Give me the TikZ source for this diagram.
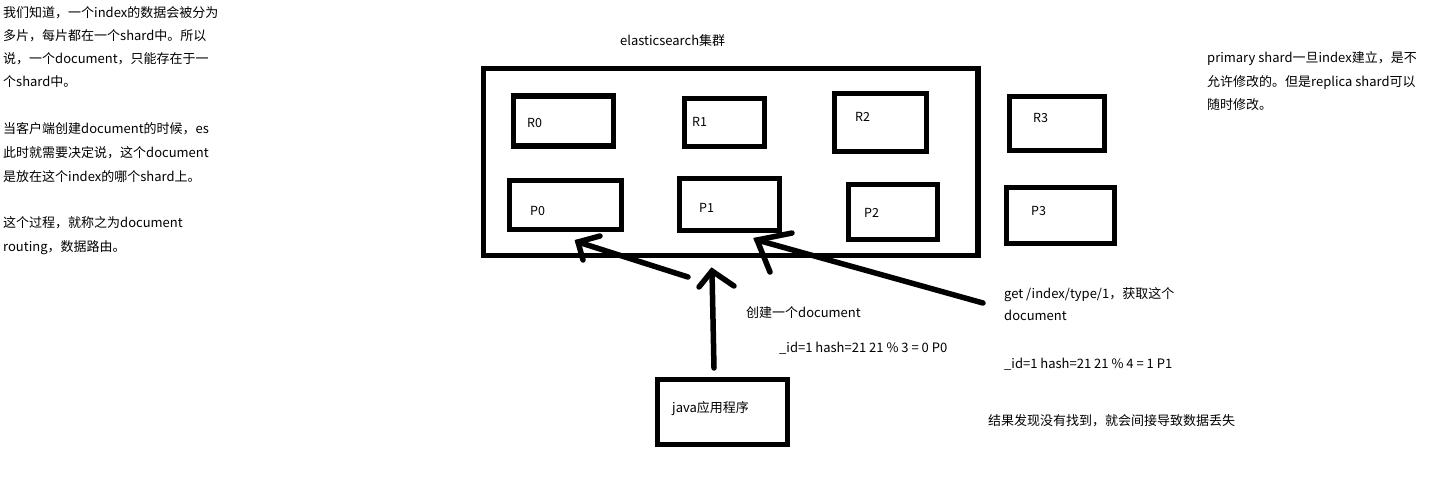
\documentclass[tikz,border=0pt]{standalone}
\usepackage{fontspec}
\setmainfont{Noto Sans CJK SC}
\begin{document}
\begin{tikzpicture}[x=1pt,y=-1pt,
  txt/.style={anchor=base west,inner sep=0pt,font=\fontsize{13}{15}\selectfont},
  lab/.style={anchor=base west,inner sep=0pt,font=\fontsize{12.5}{14}\selectfont},
  shard/.style={draw,line width=5.5pt,rectangle,inner sep=0pt},
  stroke/.style={line width=5.5pt,line cap=round}]
\useasboundingbox (0,0) rectangle (1452,483);
\fill[white] (0,0) rectangle (1452,483);
% left text
\node[txt] (l1) at (3,17.7) {我们知道，一个index的数据会被分为};
\node[txt] (l2) at (3,40.7) {多片，每片都在一个shard中。所以};
\node[txt] (l3) at (3,63.7) {说，一个document，只能存在于一};
\node[txt] (l4) at (3,86.7) {个shard中。};
\node[txt] (l5) at (3,133.7) {当客户端创建document的时候，es};
\node[txt] (l6) at (3,157.7) {此时就需要决定说，这个document};
\node[txt] (l7) at (3,181.7) {是放在这个index的哪个shard上。};
\node[txt] (l8) at (3,227.7) {这个过程，就称之为document};
\node[txt] (l9) at (3,251.7) {routing，数据路由。};
% right text
\node[txt] (r1) at (1207,62.7) {primary shard一旦index建立，是不};
\node[txt] (r2) at (1207,86.7) {允许修改的。但是replica shard可以};
\node[txt] (r3) at (1207,109.7) {随时修改。};
% title
\node[txt] (title) at (620,45.7) {elasticsearch集群};
% boxes
\node[shard,minimum width=494.5pt,minimum height=187pt] (cluster) at (730.75,162) {};
\node[shard,minimum width=100pt,minimum height=50pt] (R0) at (563.25,121) {};
\node[shard,minimum width=80pt,minimum height=48pt] (R1) at (724.5,122.5) {};
\node[shard,minimum width=92pt,minimum height=58pt] (R2) at (880.5,122.5) {};
\node[shard,minimum width=95pt,minimum height=54pt] (R3) at (1057,123.5) {};
\node[shard,minimum width=112pt,minimum height=49pt] (P0) at (565.5,205) {};
\node[shard,minimum width=100pt,minimum height=52pt] (P1) at (729.5,204.5) {};
\node[shard,minimum width=89pt,minimum height=55pt] (P2) at (893,212) {};
\node[shard,minimum width=108pt,minimum height=56pt] (P3) at (1060.5,215.5) {};
\node[shard,minimum width=130pt,minimum height=65pt] (java) at (722.5,412) {};
% labels
\node[lab] (R0t) at (527,127.5) {R0};
\node[lab] (R1t) at (692,126.5) {R1};
\node[lab] (R2t) at (855,121.5) {R2};
\node[lab] (R3t) at (1033,122.5) {R3};
\node[lab] (P0t) at (530,215) {P0};
\node[lab] (P1t) at (699,212.5) {P1};
\node[lab] (P2t) at (864,217.5) {P2};
\node[lab] (P3t) at (1031,215.5) {P3};
\node[txt] (javat) at (672,412.7) {java应用程序};
% annotations
\node[txt] (c1) at (746,317.7) {创建一个document};
\node[txt] (c2) at (779,352.7) {\_id=1 hash=21 21 \% 3 = 0 P0};
\node[txt] (g1) at (1004,298.7) {get /index/type/1，获取这个};
\node[txt] (g2) at (1004,320.7) {document};
\node[txt] (g3) at (1004,368.7) {\_id=1 hash=21 21 \% 4 = 1 P1};
\node[txt] (res) at (988,425.7) {结果发现没有找到，就会间接导致数据丢失};
% arrows
\coordinate (vt) at (714,368);
\coordinate (vh) at (712,271);
\coordinate (vl) at (699,287);
\coordinate (vr) at (734,286);
\draw[stroke] (vt) -- (vh);
\draw[stroke] (vl) -- (vh) -- (vr);
\coordinate (at) at (688,277);
\coordinate (ah) at (578,242);
\coordinate (al) at (583,260);
\coordinate (ar) at (600,236);
\draw[stroke] (at) -- (ah);
\draw[stroke] (al) -- (ah) -- (ar);
\coordinate (bt) at (983,303);
\coordinate (bh) at (757,240);
\coordinate (bl) at (770,272);
\coordinate (br) at (792,233);
\draw[stroke] (bt) -- (bh);
\draw[stroke] (bl) -- (bh) -- (br);
\end{tikzpicture}
\end{document}
